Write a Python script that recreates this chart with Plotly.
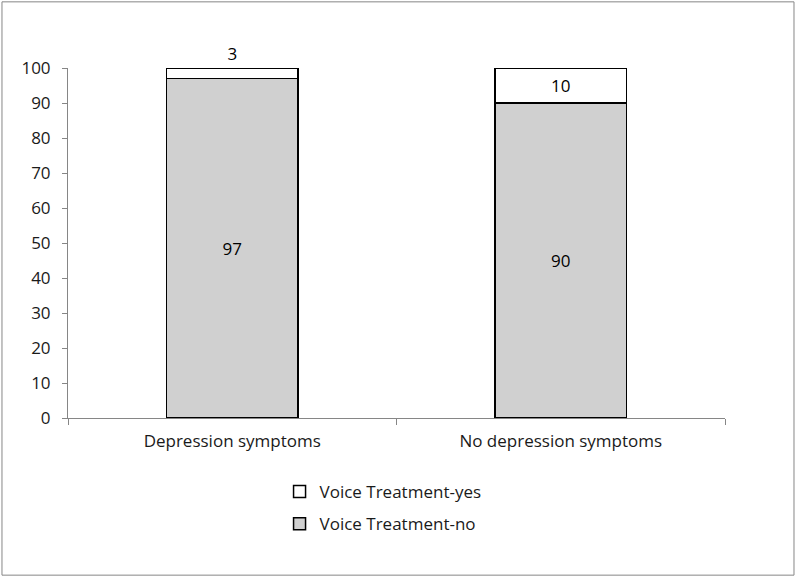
import plotly.graph_objects as go

categories = ["Depression symptoms", "No depression symptoms"]
treatment_no = [97, 90]
treatment_yes = [3, 10]

FONT = "Open Sans"
AXIS_GRAY = "#868686"

fig = go.Figure()
fig.add_trace(
    go.Bar(
        x=categories,
        y=treatment_no,
        name="Voice Treatment-no",
        marker=dict(color="#d0d0d0", line=dict(color="black", width=1.5)),
        text=treatment_no,
        textposition="inside",
        insidetextanchor="middle",
        textfont=dict(size=17, color="black", family=FONT),
        width=0.4,
        legendgroup="no",
        legendrank=2,
    )
)
fig.add_trace(
    go.Bar(
        x=categories,
        y=treatment_yes,
        name="Voice Treatment-yes",
        marker=dict(color="white", line=dict(color="black", width=1.5)),
        text=treatment_yes,
        textposition=["outside", "inside"],
        insidetextanchor="middle",
        textfont=dict(size=17, color="black", family=FONT),
        width=0.4,
        cliponaxis=False,
        legendgroup="yes",
        legendrank=1,
    )
)

fig.update_layout(
    barmode="stack",
    width=800,
    height=577,
    margin=dict(l=68, r=75, t=68, b=159),
    paper_bgcolor="white",
    plot_bgcolor="white",
    font=dict(family=FONT, size=17, color="#1a1a1a"),
    legend=dict(
        x=0.322,
        y=-0.16,
        xanchor="left",
        yanchor="top",
        traceorder="grouped",
        tracegroupgap=7,
        itemwidth=30,
        font=dict(size=17, family=FONT),
    ),
    shapes=[
        dict(
            type="rect",
            xref="paper",
            yref="paper",
            x0=-0.1005,
            x1=1.105,
            y0=-0.449,
            y1=1.189,
            line=dict(color=AXIS_GRAY, width=1),
        )
    ],
)
fig.update_xaxes(
    showline=True,
    linecolor=AXIS_GRAY,
    linewidth=1,
    ticks="outside",
    tickson="boundaries",
    ticklen=6,
    tickcolor=AXIS_GRAY,
    ticklabelstandoff=8,
    showgrid=False,
    tickfont=dict(size=17),
)
fig.update_yaxes(
    range=[0, 100],
    dtick=10,
    showline=True,
    linecolor=AXIS_GRAY,
    linewidth=1,
    ticks="outside",
    ticklen=5,
    tickcolor=AXIS_GRAY,
    ticklabelstandoff=8,
    showgrid=False,
    zeroline=False,
    tickfont=dict(size=17),
)

fig.write_html(
    "out.html",
    config={"displayModeBar": False},
    post_script="document.body.style.margin='0px';",
)
